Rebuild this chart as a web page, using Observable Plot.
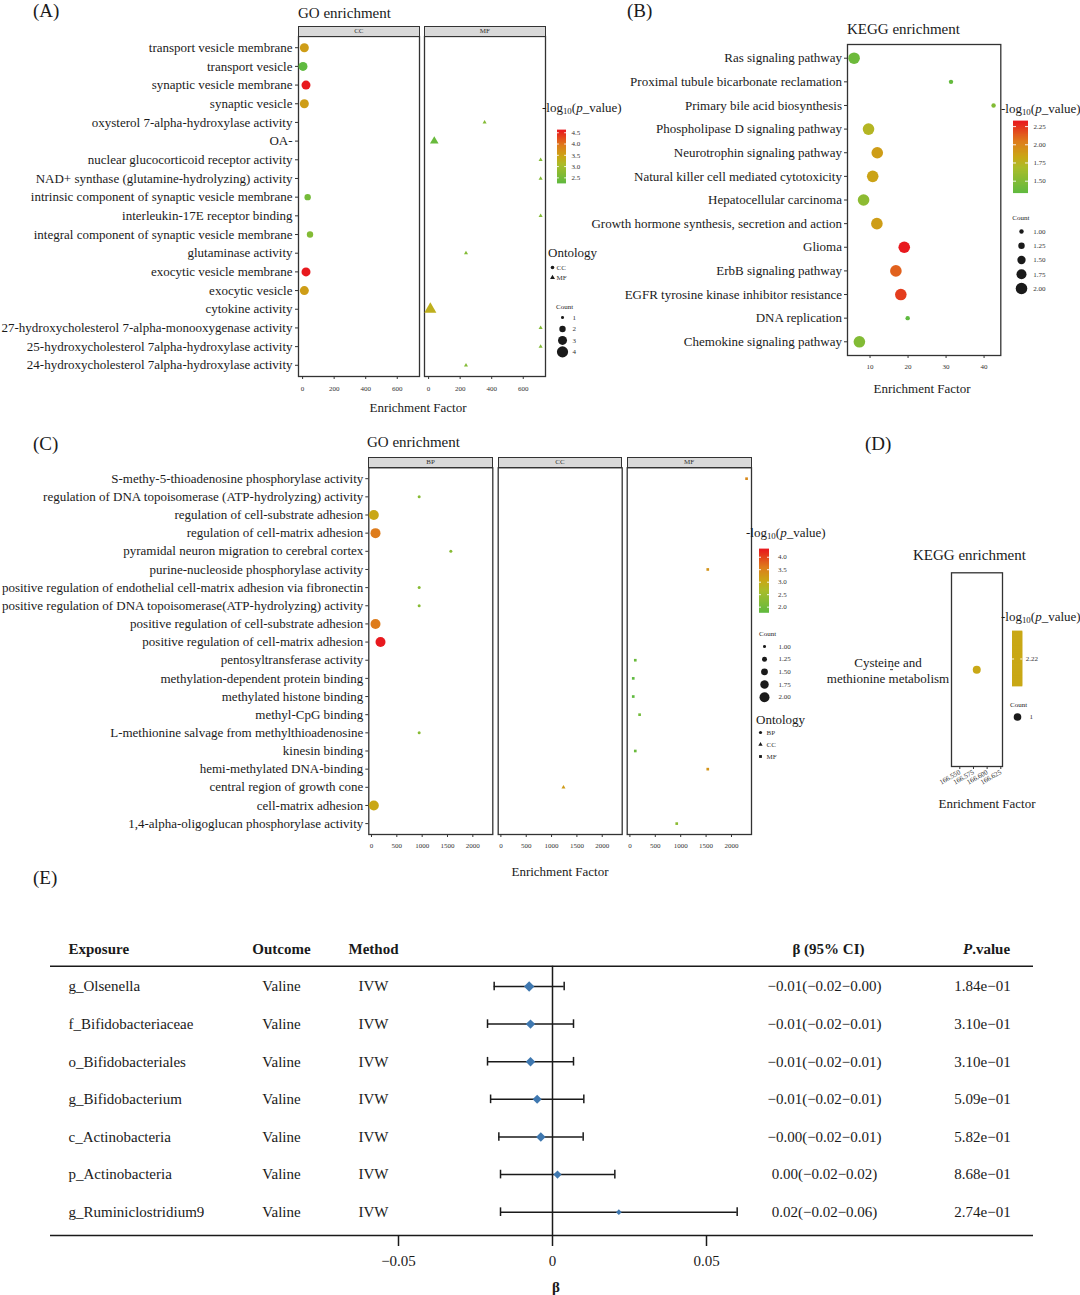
<!DOCTYPE html>
<html><head><meta charset="utf-8"><title>Enrichment and MR forest</title>
<script src="https://cdn.jsdelivr.net/npm/d3@7"></script>
<script src="https://cdn.jsdelivr.net/npm/@observablehq/plot@0.6"></script>
<style>
html,body{margin:0;padding:0;background:#fff;}
#root{position:relative;width:1080px;height:1295px;overflow:hidden;background:#fff;font-family:"Liberation Serif","Times New Roman",serif;color:#1a1a1a;}
.t{position:absolute;white-space:nowrap;line-height:1;}
.t sub{font-size:0.68em;vertical-align:-0.3em;line-height:0;}
.strip{position:absolute;box-sizing:border-box;background:#d9d9d9;border:1.3px solid #333;font-size:7px;text-align:center;color:#333;}
</style></head><body><div id="root"></div>
<script>
const FONT = '"Liberation Serif","Times New Roman",serif';
const INK = "#1a1a1a";

// ---------------- Panel A : GO enrichment (CC / MF) ----------------
const aTerms = ["transport vesicle membrane","transport vesicle","synaptic vesicle membrane","synaptic vesicle","oxysterol 7-alpha-hydroxylase activity","OA-","nuclear glucocorticoid receptor activity","NAD+ synthase (glutamine-hydrolyzing) activity","intrinsic component of synaptic vesicle membrane","interleukin-17E receptor binding","integral component of synaptic vesicle membrane","glutaminase activity","exocytic vesicle membrane","exocytic vesicle","cytokine activity","27-hydroxycholesterol 7-alpha-monooxygenase activity","25-hydroxycholesterol 7alpha-hydroxylase activity","24-hydroxycholesterol 7alpha-hydroxylase activity"];
const aOnt    = ["CC","CC","CC","CC","MF","MF","MF","MF","CC","MF","CC","MF","CC","CC","MF","MF","MF","MF"];
const aFactor = [11,2.5,21.5,11,355,36,710,710,32,710,47,237,21.5,11,11,710,710,237];
const aLogP   = [3.55,2.25,4.6,3.55,2.65,2.35,2.65,2.65,2.5,2.65,2.65,2.65,4.6,3.55,3.3,2.65,2.65,2.65];
const aCount  = [3,3,3,3,1,2,1,1,2,1,2,1,3,3,3,1,1,1];
const aFacets = ["CC","MF"];
const aTicks = [0,200,400,600];
const aColorTicks = [2.5,3.0,3.5,4.0,4.5];
const aCountLevels = [1,2,3,4];

// ---------------- Panel B : KEGG enrichment ----------------
const bTerms = ["Ras signaling pathway","Proximal tubule bicarbonate reclamation","Primary bile acid biosynthesis","Phospholipase D signaling pathway","Neurotrophin signaling pathway","Natural killer cell mediated cytotoxicity","Hepatocellular carcinoma","Growth hormone synthesis, secretion and action","Glioma","ErbB signaling pathway","EGFR tyrosine kinase inhibitor resistance","DNA replication","Chemokine signaling pathway"];
const bFactor = [5.8,31.3,42.5,9.6,11.9,10.7,8.3,11.8,19.0,16.8,18.1,19.9,7.2];
const bLogP   = [1.40,1.36,1.50,1.73,1.88,1.85,1.55,1.88,2.32,2.12,2.22,1.335,1.50];
const bCount  = [2,1,1,2,2,2,2,2,2,2,2,1,2];
const bTicks = [10,20,30,40];
const bColorTicks = [1.5,1.75,2.0,2.25];
const bCountLevels = [1,1.25,1.5,1.75,2];

// ---------------- Panel C : GO enrichment (BP / CC / MF) ----------------
const cTerms = ["S-methy-5-thioadenosine phosphorylase activity","regulation of DNA topoisomerase (ATP-hydrolyzing) activity","regulation of cell-substrate adhesion","regulation of cell-matrix adhesion","pyramidal neuron migration to cerebral cortex","purine-nucleoside phosphorylase activity","positive regulation of endothelial cell-matrix adhesion via fibronectin","positive regulation of DNA topoisomerase(ATP-hydrolyzing) activity","positive regulation of cell-substrate adhesion","positive regulation of cell-matrix adhesion","pentosyltransferase activity","methylation-dependent protein binding","methylated histone binding","methyl-CpG binding","L-methionine salvage from methylthioadenosine","kinesin binding","hemi-methylated DNA-binding","central region of growth cone","cell-matrix adhesion","1,4-alpha-oligoglucan phosphorylase activity"];
const cOnt    = ["MF","BP","BP","BP","BP","MF","BP","BP","BP","BP","MF","MF","MF","MF","BP","MF","MF","CC","BP","MF"];
const cFactor = [2297,941,46,79,1566,1533,941,941,79,178,106,66,66,191,941,106,1533,1235,46,922];
const cLogP   = [3.45,2.25,3.05,3.6,2.25,3.3,2.25,2.25,3.6,4.31,1.9,1.77,1.77,2.0,2.25,1.9,3.3,3.2,3.05,2.3];
const cCount  = [1,1,2,2,1,1,1,1,2,2,1,1,1,1,1,1,1,1,2,1];
const cFacets = ["BP","CC","MF"];
const cTicks = [0,500,1000,1500,2000];
const cColorTicks = [2.0,2.5,3.0,3.5,4.0];
const cCountLevels = [1,1.25,1.5,1.75,2];

// ---------------- Panel D : KEGG enrichment ----------------
const dTerms = ["Cysteine and\nmethionine metabolism"];
const dFactor = [166.581];
const dLogP = [2.22];
const dCount = [1];
const dTicks = [166.55,166.575,166.6,166.625];
const dTickLabels = ["166.550","166.575","166.600","166.625"];

// ---------------- Panel E : MR forest table ----------------
const eExposure = ["g_Olsenella","f_Bifidobacteriaceae","o_Bifidobacteriales","g_Bifidobacterium","c_Actinobacteria","p_Actinobacteria","g_Ruminiclostridium9"];
const eOutcome = ["Valine","Valine","Valine","Valine","Valine","Valine","Valine"];
const eMethod = ["IVW","IVW","IVW","IVW","IVW","IVW","IVW"];
const eBeta = [-0.00758,-0.00714,-0.00714,-0.00498,-0.00379,0.00162,0.02154];
const eLo   = [-0.01894,-0.0211,-0.0211,-0.0201,-0.01742,-0.01688,-0.01688];
const eHi   = [0.00379,0.00682,0.00682,0.01017,0.00996,0.02024,0.05996];
const eCI = ["\u22120.01(\u22120.02\u22120.00)","\u22120.01(\u22120.02\u22120.01)","\u22120.01(\u22120.02\u22120.01)","\u22120.01(\u22120.02\u22120.01)","\u22120.00(\u22120.02\u22120.01)","0.00(\u22120.02\u22120.02)","0.02(\u22120.02\u22120.06)"];
const eP = ["1.84e\u221201","3.10e\u221201","3.10e\u221201","5.09e\u221201","5.82e\u221201","8.68e\u221201","2.74e\u221201"];
const eTicks = [-0.05,0,0.05];

// ---------------- helpers ----------------
const root = document.getElementById("root");
const rampT = [0, 0.35, 0.5, 0.72, 1];
const rampC = ["#5FBA3F", "#A9BC2A", "#C9A816", "#DE7C1C", "#E8191E"];
const colorSpec = ([lo, hi]) => ({type: "linear", domain: rampT.map(t => lo + t * (hi - lo)), range: rampC, clamp: true});
const baseStyle = fs => ({fontFamily: FONT, fontSize: fs + "px", color: INK, background: "transparent", overflow: "visible"});

function put(el, left, top) {
  el.style.position = "absolute";
  el.style.left = left + "px";
  el.style.top = top + "px";
  root.appendChild(el);
  return el;
}
function text(html, x, y, {size = 13, anchor = "start", weight = "normal"} = {}) {
  const d = document.createElement("div");
  d.className = "t";
  d.innerHTML = html;
  d.style.fontSize = size + "px";
  d.style.fontWeight = weight;
  const tx = anchor === "middle" ? "-50%" : anchor === "end" ? "-100%" : "0";
  d.style.transform = `translate(${tx},-50%)`;
  return put(d, x, y);
}
function strip(label, x1, y1, x2, y2) {
  const d = document.createElement("div");
  d.className = "strip";
  d.textContent = label;
  d.style.width = (x2 - x1) + "px";
  d.style.height = (y2 - y1) + "px";
  d.style.lineHeight = (y2 - y1 - 2.6) + "px";
  return put(d, x1, y1);
}
const rows = (terms, ont, f, p, n) => terms.map((t, i) => ({term: t, ont: ont ? ont[i] : "", f: f[i], p: p[i], n: n[i]}));

function dotPanel(o) {
  const svg = Plot.plot({
    width: o.width, height: o.height,
    marginLeft: o.ml, marginRight: o.mr, marginTop: o.mt, marginBottom: o.mb,
    style: baseStyle(13),
    x: {domain: o.xDomain},
    y: {type: "point", domain: o.terms, padding: o.pad, round: false, axis: o.showY ? undefined : null},
    color: colorSpec(o.cDomain),
    r: {type: "sqrt", domain: o.rDomain, range: o.rRange},
    symbol: o.symbols ? {domain: o.symbols[0], range: o.symbols[1]} : undefined,
    marks: [
      Plot.frame({stroke: "#333", strokeWidth: 1.3}),
      o.showY ? Plot.axisY({tickSize: 3, tickPadding: o.ytp ?? 2.5, fontSize: 13, label: null, stroke: "#333", fill: INK, ...(o.yAxis || {})}) : null,
      Plot.axisX({ticks: o.ticks, tickSize: 3, tickPadding: o.tp, fontSize: 7, label: null, stroke: "#333", fill: "#333",
        tickFormat: o.tf || (d => String(d)), tickRotate: o.rot || 0}),
      Plot.dot(o.data, {x: "f", y: "term", r: "n", fill: "p", stroke: "none", ...(o.symbols ? {symbol: "ont"} : {})})
    ].filter(Boolean)
  });
  return put(svg, o.left, o.top);
}

function colorbar(o) {
  const [lo, hi] = o.extent;
  const n = 64, step = (hi - lo) / n;
  const slices = d3.range(n).map(i => ({a: lo + i * step, b: lo + (i + 1) * step}));
  const svg = Plot.plot({
    width: o.barW + 30, height: o.barH,
    marginLeft: 0, marginTop: 0, marginBottom: 0, marginRight: 30,
    style: baseStyle(7),
    x: {domain: [0, 1], axis: null},
    y: {domain: [lo, hi], axis: null},
    color: colorSpec(o.cDomain),
    marks: [
      Plot.rect(slices, {x1: 0, x2: 1, y1: "a", y2: "b", fill: o.fill || (d => (d.a + d.b) / 2), insetTop: -0.4, insetBottom: -0.4}),
      Plot.ruleY(o.ticks, {x1: 0, x2: 0.2, stroke: "white", strokeWidth: 0.9}),
      Plot.ruleY(o.ticks, {x1: 0.8, x2: 1, stroke: "white", strokeWidth: 0.9}),
      Plot.text(o.ticks, {x: 1, y: d => d, text: o.fmt, textAnchor: "start", dx: o.gap, fontSize: 7, fill: "#333"})
    ]
  });
  return put(svg, o.left, o.top);
}

function keyLegend(o) {
  const h = Math.max(1, o.y2 - o.y1);
  const svg = Plot.plot({
    width: 40, height: h, margin: 0,
    style: baseStyle(7),
    x: {domain: [0, 1], range: [0, 40], axis: null},
    y: {type: "point", domain: o.levels, range: [0, o.y2 - o.y1], padding: 0, round: false, axis: null},
    r: o.rDomain ? {type: "sqrt", domain: o.rDomain, range: o.rRange} : undefined,
    symbol: o.symbols ? {domain: o.symbols[0], range: o.symbols[1]} : undefined,
    marks: [
      Plot.dot(o.levels, {x: 0, y: d => d, fill: INK, stroke: "none",
        ...(o.rDomain ? {r: d => d} : {r: o.r}), ...(o.symbols ? {symbol: d => d} : {})}),
      Plot.text(o.levels, {x: 0, y: d => d, text: o.fmt || (d => String(d)), dx: o.gap, textAnchor: "start", fontSize: 7, fill: "#333"})
    ]
  });
  return put(svg, o.x, o.y1);
}

const logTitle = "-log<sub>10</sub>(<i>p</i>_value)";

// ---------------- Panel A ----------------
const aData = rows(aTerms, aOnt, aFactor, aLogP, aCount);
const aCD = [2.25, 4.6];
const aSym = [["CC","MF"], ["circle","triangle"]];
const aCommon = {terms: aTerms, pad: 0.6, xDomain: [-26, 741], ticks: aTicks, tp: 7, cDomain: aCD, rDomain: [1,4], rRange: [1.5,5.6], symbols: aSym, top: 0, height: 400, mt: 36, mb: 24};
dotPanel({...aCommon, left: 0, width: 423, ml: 298, mr: 4, showY: true, ytp: 3, data: aData.filter(d => d.ont === aFacets[0])});
dotPanel({...aCommon, left: 420, width: 130, ml: 4, mr: 5, showY: false, data: aData.filter(d => d.ont === aFacets[1])});
strip(aFacets[0], 298, 25.7, 419.6, 36.6);
strip(aFacets[1], 424, 25.7, 545.6, 36.6);
text("(A)", 33, 10, {size: 19});
text("GO enrichment", 298, 13, {size: 15});
text("Enrichment Factor", 418, 407, {size: 13, anchor: "middle"});
text(logTitle, 542, 107, {size: 13});
colorbar({left: 557, top: 130, barW: 9, barH: 53, extent: aCD, cDomain: aCD, ticks: aColorTicks, fmt: d3.format(".1f"), gap: 5});
text("Ontology", 548, 251.5, {size: 13});
keyLegend({x: 551.7, y1: 267, y2: 277, levels: aFacets, symbols: aSym, r: 1.8, gap: 4});
text("Count", 556, 307, {size: 7});
keyLegend({x: 561.7, y1: 317.3, y2: 351.7, levels: aCountLevels, rDomain: [1,4], rRange: [1.5,5.6], gap: 10});

// ---------------- Panel B ----------------
const bData = rows(bTerms, null, bFactor, bLogP, bCount);
const bCD = [1.335, 2.32];
dotPanel({left: 580, top: 0, width: 430, height: 380, ml: 267, mr: 9.7, mt: 44, mb: 25, terms: bTerms, pad: 0.58,
  xDomain: [4.07, 44.4], ticks: bTicks, tp: 6, cDomain: bCD, rDomain: [1,2], rRange: [2.2,5.8], showY: true, data: bData});
text("(B)", 627, 10, {size: 19});
text("KEGG enrichment", 847, 29, {size: 15});
text("Enrichment Factor", 922, 388, {size: 13, anchor: "middle"});
text(logTitle, 1001, 108, {size: 13});
colorbar({left: 1013.3, top: 121, barW: 15, barH: 71.7, extent: bCD, cDomain: bCD, ticks: bColorTicks, fmt: d3.format(".2f"), gap: 5});
text("Count", 1012.3, 218, {size: 7});
keyLegend({x: 1021, y1: 231.3, y2: 288.3, levels: bCountLevels, rDomain: [1,2], rRange: [2.2,5.8], fmt: d3.format(".2f"), gap: 11.7});

// ---------------- Panel C ----------------
const cData = rows(cTerms, cOnt, cFactor, cLogP, cCount);
const cCD = [1.77, 4.31];
const cSym = [["BP","CC","MF"], ["circle","triangle","square"]];
const cCommon = {terms: cTerms, pad: 0.6, xDomain: [-53, 2394], ticks: cTicks, tp: 6, cDomain: cCD, rDomain: [1,2], rRange: [1.5,5], symbols: cSym, top: 440, height: 420, mt: 27.3, mb: 26};
dotPanel({...cCommon, left: 0, width: 496, ml: 368.3, mr: 3.7, showY: true, data: cData.filter(d => d.ont === cFacets[0])});
dotPanel({...cCommon, left: 494, width: 132, ml: 3.7, mr: 4.3, showY: false, data: cData.filter(d => d.ont === cFacets[1])});
dotPanel({...cCommon, left: 623, width: 132, ml: 3.7, mr: 4, showY: false, data: cData.filter(d => d.ont === cFacets[2])});
strip(cFacets[0], 368.3, 456.7, 492.9, 467.9);
strip(cFacets[1], 497.7, 456.7, 622.3, 467.9);
strip(cFacets[2], 626.7, 456.7, 751.6, 467.9);
text("(C)", 33, 443, {size: 19});
text("GO enrichment", 367, 442, {size: 15});
text("Enrichment Factor", 560, 871, {size: 13, anchor: "middle"});
text(logTitle, 746, 531.5, {size: 13});
colorbar({left: 759, top: 549.3, barW: 10, barH: 63.4, extent: cCD, cDomain: cCD, ticks: cColorTicks, fmt: d3.format(".1f"), gap: 8.5});
text("Count", 759, 633.5, {size: 7});
keyLegend({x: 764, y1: 646, y2: 696.7, levels: cCountLevels, rDomain: [1,2], rRange: [1.5,5], fmt: d3.format(".2f"), gap: 14});
text("Ontology", 756, 719, {size: 13});
keyLegend({x: 760, y1: 732, y2: 756, levels: cFacets, symbols: cSym, r: 1.6, gap: 6});

// ---------------- Panel D ----------------
const dData = rows(dTerms, null, dFactor, dLogP, dCount);
const dCD = [2.0, 2.44];
dotPanel({left: 800, top: 560, width: 210, height: 230, ml: 151, mr: 8, mt: 12.3, mb: 24, terms: dTerms, pad: 0.5,
  xDomain: [166.5348, 166.6281], ticks: dTicks, tp: 2, rot: -30,
  tf: d => dTickLabels[dTicks.findIndex(v => Math.abs(v - d) < 1e-9)],
  cDomain: dCD, rDomain: [0,1], rRange: [0,4], showY: true, data: dData,
  yAxis: {textAnchor: "middle", dx: -58, lineHeight: 1.25}});
text("(D)", 865, 443, {size: 19});
text("KEGG enrichment", 913, 555, {size: 15});
text("Enrichment Factor", 987, 803, {size: 13, anchor: "middle"});
text(logTitle, 1001, 616, {size: 13});
colorbar({left: 1012, top: 631, barW: 10.3, barH: 55, extent: [2.12, 2.32], cDomain: dCD, ticks: dLogP, fmt: d3.format(".2f"), gap: 3, fill: () => dLogP[0]});
text("Count", 1010, 705, {size: 7});
keyLegend({x: 1017, y1: 715.7, y2: 716.7, levels: dCount, rDomain: [0,1], rRange: [0,3.8], gap: 12});

// ---------------- Panel E ----------------
text("(E)", 33, 877, {size: 19});
const eRows = eExposure.map((e, k) => ({i: k + 1, exposure: e, outcome: eOutcome[k], method: eMethod[k], beta: eBeta[k], lo: eLo[k], hi: eHi[k], ci: eCI[k], p: eP[k]}));
const yTop = 0.46, yBot = 7.62, cap = 0.115;
const col = (field, dx, anchor) => Plot.text(eRows, {y: "i", text: field, frameAnchor: "left", dx, textAnchor: anchor, fill: INK, fontSize: 15});
const head = (label, dx, anchor, extra = {}) => Plot.text([0], {y: d => d, text: [label], frameAnchor: "left", dx, textAnchor: anchor, fill: INK, fontSize: 15, fontWeight: "bold", ...extra});
const eSvg = Plot.plot({
  width: 1080, height: 370, marginLeft: 50, marginRight: 47, marginTop: 40.7, marginBottom: 60,
  style: baseStyle(15),
  x: {domain: [-0.05, 0.05], range: [398, 706]},
  y: {domain: [yTop, yBot], reverse: true, axis: null},
  r: {type: "sqrt", domain: [0, 44], range: [0, 4.7]},
  marks: [
    Plot.ruleY([yTop, yBot], {stroke: INK, strokeWidth: 1.6}),
    Plot.ruleX([0], {y1: yTop, y2: yBot, stroke: INK, strokeWidth: 1.5}),
    Plot.axisX({ticks: eTicks, tickSize: 11, tickPadding: 9, fontSize: 15, label: null, stroke: INK, strokeWidth: 1.5, fill: INK,
      tickFormat: d => d === 0 ? "0" : (d < 0 ? "\u2212" : "") + Math.abs(d).toFixed(2)}),
    Plot.ruleY(eRows, {y: "i", x1: "lo", x2: "hi", stroke: INK, strokeWidth: 1.5}),
    Plot.ruleX(eRows, {x: "lo", y1: d => d.i - cap, y2: d => d.i + cap, stroke: INK, strokeWidth: 1.5}),
    Plot.ruleX(eRows, {x: "hi", y1: d => d.i - cap, y2: d => d.i + cap, stroke: INK, strokeWidth: 1.5}),
    Plot.dot(eRows, {x: "beta", y: "i", r: d => 1 / (d.hi - d.lo), symbol: "diamond2", fill: "#3F78B0", stroke: "none"}),
    head("Exposure", 18, "start"),
    head("Outcome", 231, "middle"),
    head("Method", 323, "middle"),
    head("\u03b2 (95% CI)", 778, "middle"),
    head("P", 921.7, "end", {fontStyle: "italic"}),
    head(".value", 921.7, "start"),
    col("exposure", 18, "start"),
    col("outcome", 231, "middle"),
    col("method", 323, "middle"),
    col("ci", 774, "middle"),
    col("p", 932, "middle")
  ]
});
put(eSvg, 0, 925);
text("\u03b2", 556, 1287, {size: 15, anchor: "middle", weight: "bold"});
</script></body></html>
